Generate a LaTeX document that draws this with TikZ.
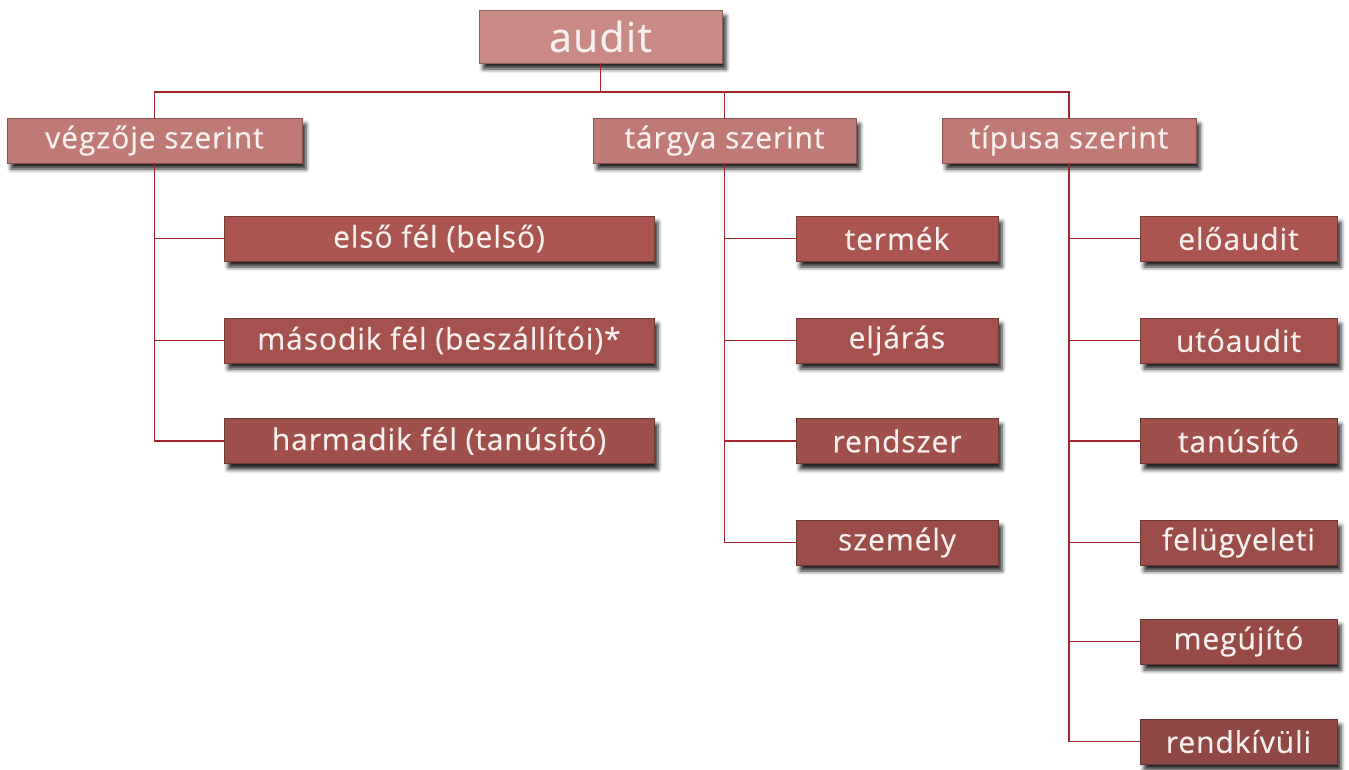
\documentclass[tikz,border=0pt]{standalone}
\usepackage{fontspec}
\setmainfont{Open Sans}[FakeBold=0.4, LetterSpace=3]
\usetikzlibrary{shadows.blur}
\definecolor{linec}{HTML}{A3262A}
\definecolor{topc}{HTML}{C98985}
\definecolor{midc}{HTML}{C07A75}
\definecolor{lowc}{HTML}{AA5550}
\definecolor{txtc}{HTML}{F7F0EF}
\tikzset{
  box/.style={draw=black!30!#1, line width=0.8pt, fill=#1, text=txtc, inner sep=0pt,
    minimum height=45pt, font=\fontsize{30}{32}\selectfont,
    blur shadow={shadow xshift=4pt, shadow yshift=-6pt, shadow blur radius=4pt, shadow opacity=85}},
  conn/.style={draw=linec, line width=1.2pt},
}
\begin{document}
\begin{tikzpicture}[x=1pt,y=-1pt]
\useasboundingbox (0,0) rectangle (1349,769);
% nodes
\node[box=topc, minimum width=243pt, minimum height=53pt, font=\fontsize{41}{44}\selectfont] (audit) at (600.5,36.5) {audit};
\node[box=midc, minimum width=295pt] (veg) at (154.5,140.5) {végzője szerint};
\node[box=midc, minimum width=263pt] (targy) at (724.5,140.5) {tárgya szerint};
\node[box=midc, minimum width=254pt] (tipus) at (1069,140.5) {típusa szerint};

\node[box=lowc, minimum width=430pt] (v1) at (439,238.5) {első fél (belső)};
\node[box=lowc!97!black, minimum width=430pt] (v2) at (439,340.5) {második fél (beszállítói)*};
\node[box=lowc!94!black, minimum width=430pt] (v3) at (439,441) {harmadik fél (tanúsító)};

\node[box=lowc, minimum width=202pt] (t1) at (897,238.5) {termék};
\node[box=lowc!97!black, minimum width=202pt] (t2) at (897,340.5) {eljárás};
\node[box=lowc!94!black, minimum width=202pt] (t3) at (897,441) {rendszer};
\node[box=lowc!91!black, minimum width=202pt] (t4) at (897,542.5) {személy};

\node[box=lowc, minimum width=197pt] (p1) at (1238.5,238.5) {előaudit};
\node[box=lowc!97!black, minimum width=197pt] (p2) at (1238.5,340.5) {utóaudit};
\node[box=lowc!94!black, minimum width=197pt] (p3) at (1238.5,441) {tanúsító};
\node[box=lowc!91!black, minimum width=197pt] (p4) at (1238.5,542.5) {felügyeleti};
\node[box=lowc!88!black, minimum width=197pt] (p5) at (1238.5,641.5) {megújító};
\node[box=lowc!85!black, minimum width=197pt] (p6) at (1238.5,741.5) {rendkívüli};

% connectors
\coordinate (bus) at (600.5,92);
\draw[conn] (audit.south) -- (bus);
\draw[conn] (veg.north) |- (bus) -| (tipus.north);
\draw[conn] (bus) -| (targy.north);
\draw[conn] (veg.south) |- (v3.west);
\draw[conn] (veg.south |- v1.west) -- (v1.west);
\draw[conn] (veg.south |- v2.west) -- (v2.west);
\draw[conn] (targy.south) |- (t4.west);
\draw[conn] (targy.south |- t1.west) -- (t1.west);
\draw[conn] (targy.south |- t2.west) -- (t2.west);
\draw[conn] (targy.south |- t3.west) -- (t3.west);
\draw[conn] (tipus.south) |- (p6.west);
\draw[conn] (tipus.south |- p1.west) -- (p1.west);
\draw[conn] (tipus.south |- p2.west) -- (p2.west);
\draw[conn] (tipus.south |- p3.west) -- (p3.west);
\draw[conn] (tipus.south |- p4.west) -- (p4.west);
\draw[conn] (tipus.south |- p5.west) -- (p5.west);
\end{tikzpicture}
\end{document}
